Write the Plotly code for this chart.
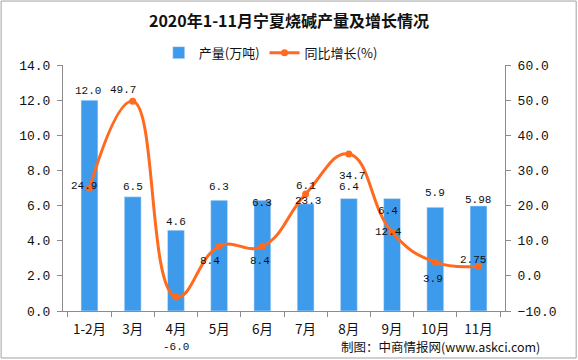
import plotly.graph_objects as go

categories = ["1-2月", "3月", "4月", "5月", "6月", "7月", "8月", "9月", "10月", "11月"]
output = [12.0, 6.5, 4.6, 6.3, 6.3, 6.1, 6.4, 6.4, 5.9, 5.98]
output_labels = ["12.0", "6.5", "4.6", "6.3", "6.3", "6.1", "6.4", "6.4", "5.9", "5.98"]
growth = [24.9, 49.7, -6.0, 8.4, 8.4, 23.3, 34.7, 12.4, 3.9, 2.75]
growth_labels = ["24.9", "49.7", "-6.0", "8.4", "8.4", "23.3", "34.7", "12.4", "3.9", "2.75"]

# label offsets (pixels) to mimic reference label placement
bar_yshift = [9, 10, 8, 13, -3, 18, 12, -12, 14, 6]
bar_xshift = [-1, 0, 0, 0, 0, 0, 0, -4, 0, -1]
line_xshift = [-5, -10, 0, -9, -2, 2, 3, -4, -2, -6]
line_yshift = [2, 11, -50, -15, -15, -7, -22, 0, -17, 6]

BLUE = "#3E9BEB"
ORANGE = "#FF6A1F"
AXIS = "#8C8C8C"
MONO = "Liberation Mono, DejaVu Sans Mono, monospace"
CJK = "Noto Sans CJK SC, sans-serif"

fig = go.Figure()
fig.add_trace(go.Bar(
    x=categories, y=output, name="产量(万吨)", marker_color=BLUE,
    yaxis="y", width=0.39,
))
fig.add_trace(go.Scatter(
    x=categories, y=growth, name="同比增长(%)", yaxis="y2",
    mode="lines+markers",
    line=dict(color=ORANGE, width=3, shape="spline", smoothing=1.3),
    marker=dict(color=ORANGE, size=7),
))

annotations = []
for c, v, t, dx, dy in zip(categories, output, output_labels, bar_xshift, bar_yshift):
    annotations.append(dict(x=c, y=v, xref="x", yref="y", text=t, showarrow=False,
                            xshift=dx, yshift=dy,
                            font=dict(family=MONO, size=11, color="#111")))
for c, v, t, dx, dy in zip(categories, growth, growth_labels, line_xshift, line_yshift):
    annotations.append(dict(x=c, y=v, xref="x", yref="y2", text=t, showarrow=False,
                            xshift=dx, yshift=dy,
                            font=dict(family=MONO, size=11, color="#111")))
annotations.append(dict(x=1.0, y=-0.145, xref="paper", yref="paper", xanchor="right",
                        yanchor="middle", xshift=37, showarrow=False,
                        text="制图：中商情报网(www.askci.com)",
                        font=dict(family=CJK, size=12.5, color="#111")))

fig.update_layout(
    width=578, height=360,
    margin=dict(l=63, r=73, t=65, b=49, autoexpand=False),
    paper_bgcolor="white", plot_bgcolor="white",
    title=dict(text="<b>2020年1-11月宁夏烧碱产量及增长情况</b>", x=0.5, xanchor="center",
               y=0.94, yanchor="middle", yref="container",
               font=dict(family=CJK, size=16, color="#111")),
    legend=dict(orientation="h", x=0.47, y=1.05, xanchor="center", yanchor="middle",
                font=dict(family=CJK, size=13, color="#111"), bgcolor="rgba(0,0,0,0)",
                itemwidth=30),
    showlegend=True,
    xaxis=dict(
        type="category", showline=True, linecolor=AXIS, linewidth=1,
        ticks="outside", tickson="boundaries", ticklen=5, tickcolor=AXIS,
        tickangle=0, ticklabelstandoff=6,
        tickfont=dict(family=CJK, size=13.5, color="#111"), showgrid=False,
    ),
    yaxis=dict(
        range=[0, 14], dtick=2, tickformat=".1f", showline=True, linecolor=AXIS,
        ticks="outside", ticklen=5, tickcolor=AXIS, showgrid=False, zeroline=False,
        ticklabelstandoff=4,
        tickfont=dict(family=MONO, size=13, color="#111"),
    ),
    yaxis2=dict(
        range=[-10, 60], dtick=10, tickformat=".1f", overlaying="y", side="right",
        showline=True, linecolor=AXIS, ticks="outside", ticklen=5, tickcolor=AXIS,
        showgrid=False, zeroline=False, ticklabelstandoff=4,
        tickfont=dict(family=MONO, size=13, color="#111"),
    ),
    annotations=annotations,
    shapes=[dict(type="rect", xref="paper", yref="paper",
                 x0=-0.140, x1=1.161, y0=-0.191, y1=1.260,
                 line=dict(color="#A0A0A0", width=1))],
)

fig.write_html("out.html", config={"displayModeBar": False},
               post_script="document.body.style.margin='0';document.body.style.overflow='hidden';")
